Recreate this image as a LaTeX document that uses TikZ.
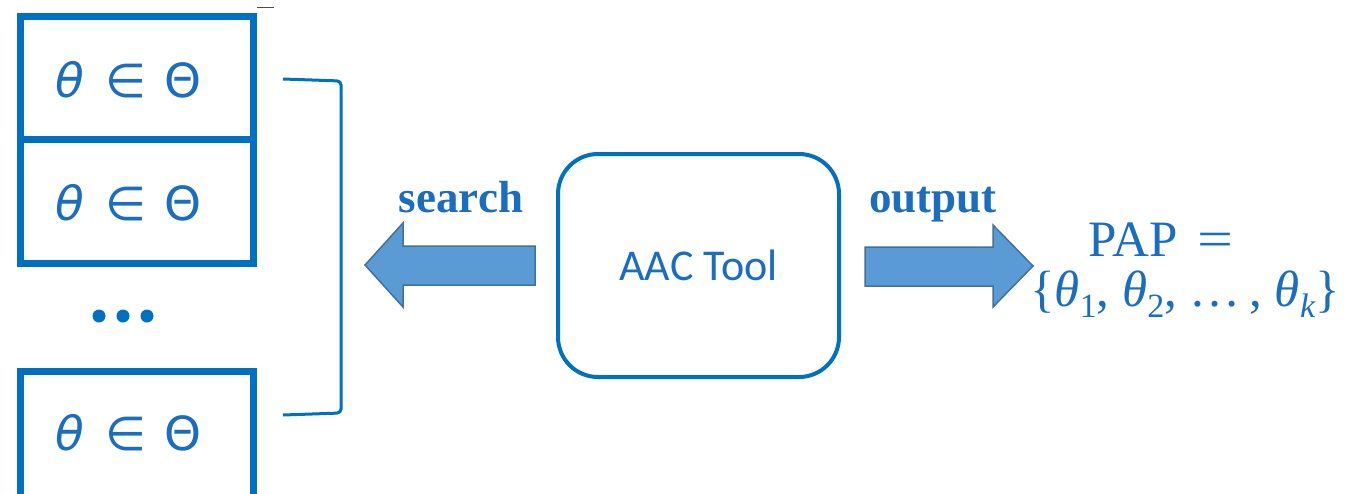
\documentclass[tikz,border=0pt]{standalone}
\usepackage{graphicx}
\usepackage{fontspec}
\setmainfont{Liberation Serif}
\newfontfamily\symfnt{DejaVu Sans}
\newfontfamily\calfnt{Carlito}
\definecolor{boxblue}{HTML}{0070C0}
\definecolor{txtblue}{HTML}{1A6DBF}
\definecolor{arrfill}{HTML}{5B9BD5}
\definecolor{arrline}{HTML}{41719C}
\newcommand{\thetain}{\makebox[30pt][c]{\itshape θ}\hspace{25pt}\makebox[32pt][c]{∈}\hspace{23pt}\makebox[37pt][c]{Θ}}
\newcommand{\thsub}[1]{{\itshape θ}\raisebox{-0.22em}{\fontsize{34}{34}\selectfont #1}}
\tikzset{
  thetabox/.style={draw=boxblue, line width=7pt, minimum width=233.5pt, inner sep=0pt},
  thetatext/.style={text=txtblue, font=\symfnt\fontsize{47}{50}\selectfont, inner sep=0pt},
  aacbox/.style={draw=boxblue, line width=4pt, rounded corners=40pt, minimum width=281pt, minimum height=223pt, text=txtblue, font=\calfnt\fontsize{44}{48}\selectfont},
  fatarrow/.style={fill=arrfill, draw=arrline, line width=1.5pt, line join=miter},
  lbl/.style={text=txtblue, font=\bfseries\fontsize{45}{48}\selectfont, inner sep=0pt},
  bracketline/.style={draw=boxblue, line width=3pt, rounded corners=4pt},
  dot/.style={circle, fill=boxblue, minimum size=13pt, inner sep=0pt},
  paptext/.style={text=txtblue, font=\fontsize{51}{54}\selectfont, inner sep=0pt}
}
\begin{document}
\begin{tikzpicture}[x=1pt,y=-1pt]
\useasboundingbox (0,0) rectangle (1355,493);
\clip (0,0) rectangle (1355,493);
\fill[white] (0,0) rectangle (1355,493);
% theta boxes
\node[thetabox, minimum height=123pt] (b1) at (136.75,77.5) {};
\node[thetabox, minimum height=124pt] (b2) at (136.75,201) {};
\node[thetabox, minimum height=126pt] (b3) at (136.75,434) {};
\node[thetatext] (t1) at (128.5,80) {\thetain};
\node[thetatext] (t2) at (128.5,203) {\thetain};
\node[thetatext] (t3) at (128.5,433) {\thetain};
\node[dot] (d1) at (99,316) {};
\node[dot] (d2) at (123,316) {};
\node[dot] (d3) at (147,316) {};
% small dash
\coordinate (dashA) at (257,7);
\coordinate (dashB) at (274,7);
\draw[black!70, line width=1pt] (dashA) -- (dashB);
% bracket
\coordinate (brA) at (283,79);
\coordinate (brB) at (341,81);
\coordinate (brC) at (341,413);
\coordinate (brD) at (283,415);
\draw[bracketline] (brA) -- (brB) -- (brC) -- (brD);
% AAC tool
\node[aacbox] (aac) at (698.5,265.5) {AAC Tool};
% search arrow
\path[fatarrow] (535,246) coordinate (sTail) -- (403,246) -- (403,223) -- (365,265) coordinate (sTip) -- (403,307) -- (403,285) -- (535,285) -- cycle;
\node[lbl] (search) at (461,197) {search};
% output arrow
\path[fatarrow] (865,247) coordinate (oTail) -- (993,247) -- (993,225) -- (1033,266) coordinate (oTip) -- (993,307) -- (993,286) -- (865,286) -- cycle;
\node[lbl] (output) at (933,205) {output};
% PAP
\node[paptext] (pap) at (1161,240) {PAP\hspace{20pt}\scalebox{1.25}[1]{=}};
\node[paptext] (papset) at (1185,294) {\{\thsub{1}, \thsub{2}, \ldots\,, \thsub{\itshape k}\}};
\end{tikzpicture}
\end{document}
